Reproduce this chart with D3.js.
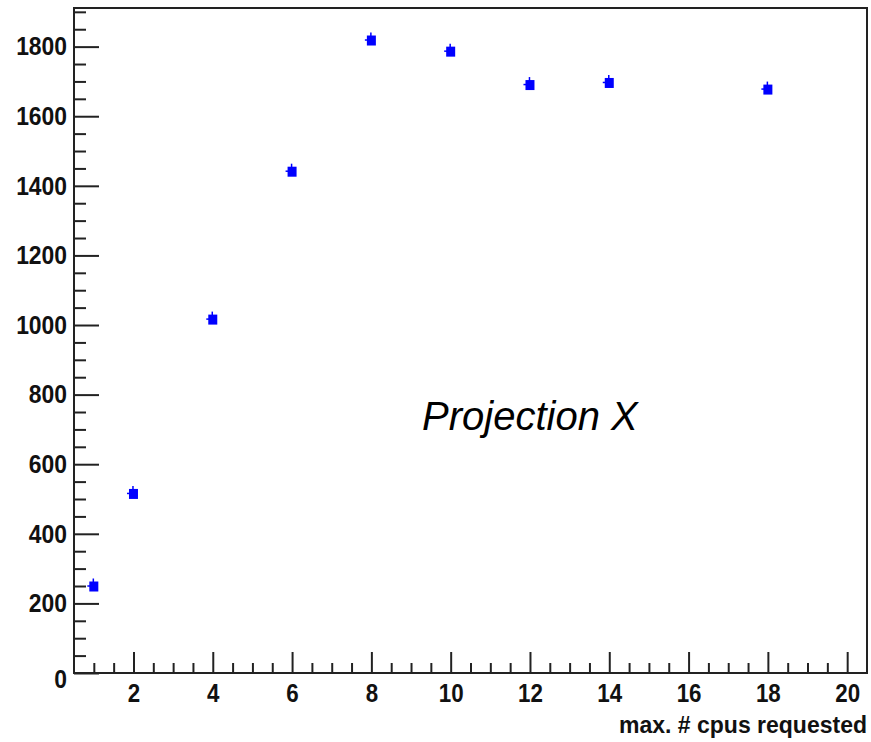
<!DOCTYPE html>
<html>
<head>
<meta charset="utf-8">
<script src="https://cdn.jsdelivr.net/npm/d3@7"></script>
<style>
  body { margin: 0; background: #fff; }
  svg { display: block; }
</style>
</head>
<body>
<svg id="chart" width="871" height="742"></svg>
<script>
// data
const cpus = [1, 2, 4, 6, 8, 10, 12, 14, 18];
const counts = [250, 516, 1017, 1442, 1819, 1787, 1691, 1697, 1678];
const xTicks = [2, 4, 6, 8, 10, 12, 14, 16, 18, 20];
const yTicks = [0, 200, 400, 600, 800, 1000, 1200, 1400, 1600, 1800];
const xTitle = 'max. # cpus requested';
const label = 'Projection X';

const svg = d3.select('#chart');
const padL = 74, padR = 867, padT = 8, padB = 673;

const x = d3.scaleLinear().domain([0.5, 20.5]).range([padL, padR]);
const y = d3.scaleLinear().domain([0, 1911]).range([padB, padT]);

const font = '"Liberation Sans", Arial, Helvetica, sans-serif';
const ink = '#222';

// frame
svg.append('rect')
  .attr('x', padL).attr('y', padT)
  .attr('width', padR - padL).attr('height', padB - padT)
  .attr('fill', 'none').attr('stroke', ink).attr('stroke-width', 2);

// minor ticks
const xMinor = d3.range(1, 20.01, 0.5).filter(v => !xTicks.includes(v));
const yMinor = d3.range(50, 1911, 50).filter(v => !yTicks.includes(v));

svg.append('g')
  .attr('transform', `translate(0,${padB})`)
  .call(d3.axisBottom(x).tickValues(xMinor).tickSize(-10).tickFormat(''))
  .call(g => g.select('.domain').remove());

svg.append('g')
  .attr('transform', `translate(${padL},0)`)
  .call(d3.axisLeft(y).tickValues(yMinor).tickSize(-12).tickFormat(''))
  .call(g => g.select('.domain').remove());

// major ticks with labels
const xAxis = svg.append('g')
  .attr('transform', `translate(0,${padB})`)
  .call(d3.axisBottom(x).tickValues(xTicks).tickSize(-21).tickPadding(11).tickFormat(d3.format('d')))
  .call(g => g.select('.domain').remove());

const yAxis = svg.append('g')
  .attr('transform', `translate(${padL},0)`)
  .call(d3.axisLeft(y).tickValues(yTicks).tickSize(-25).tickPadding(7).tickFormat(d3.format('d')))
  .call(g => g.select('.domain').remove());

svg.selectAll('.tick line').attr('stroke', ink).attr('stroke-width', 2);

[xAxis, yAxis].forEach(g => g.selectAll('text')
  .attr('font-family', font)
  .attr('font-weight', 'bold')
  .attr('font-size', 26)
  .attr('fill', '#111'));

xAxis.selectAll('text').attr('transform', 'scale(0.86,1)');
yAxis.selectAll('text')
  .attr('x', -7 / 0.88)
  .attr('transform', 'scale(0.88,1)');
yAxis.selectAll('.tick').filter(d => d === 0).select('text').attr('dy', '0.55em');

// axis title
svg.append('text')
  .attr('x', padR).attr('y', 733)
  .attr('text-anchor', 'end')
  .attr('font-family', font)
  .attr('font-weight', 'bold')
  .attr('font-size', 23)
  .attr('fill', '#111')
  .text(xTitle);

// label
svg.append('text')
  .attr('x', 422).attr('y', 430)
  .attr('font-family', font)
  .attr('font-style', 'italic')
  .attr('font-size', 40)
  .attr('fill', '#000')
  .text(label);

// markers with small error bars
const pts = svg.append('g')
  .selectAll('g')
  .data(cpus.map((c, i) => ({ c, v: counts[i] })))
  .join('g')
  .attr('transform', d => `translate(${x(d.c)},${y(d.v)})`);

pts.append('line')
  .attr('x1', -0.5).attr('x2', -0.5).attr('y1', -7.5).attr('y2', 0)
  .attr('stroke', '#0000ff').attr('stroke-width', 1.5);
pts.append('line')
  .attr('x1', -6.5).attr('x2', 0).attr('y1', 0).attr('y2', 0)
  .attr('stroke', '#0000ff').attr('stroke-width', 1.5);
pts.append('rect')
  .attr('x', -4.5).attr('y', -4.5)
  .attr('width', 9).attr('height', 10)
  .attr('fill', '#0000ff');
</script>
</body>
</html>
